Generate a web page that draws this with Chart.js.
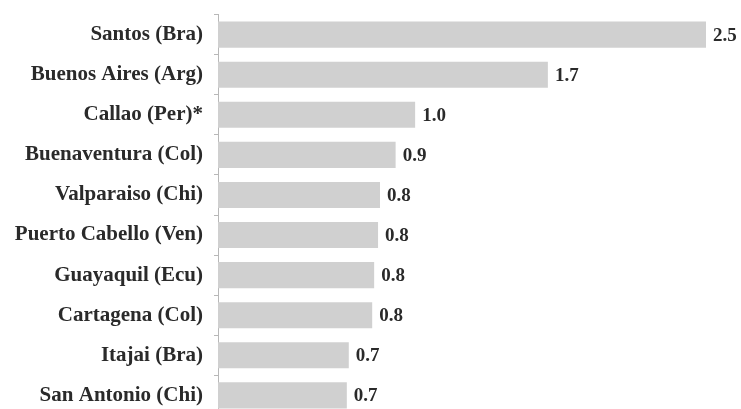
<!DOCTYPE html>
<html>
<head>
<meta charset="utf-8">
<script src="https://cdn.jsdelivr.net/npm/chart.js@4/dist/chart.umd.min.js"></script>
<style>
  html, body { margin: 0; padding: 0; background: #fff; overflow: hidden; }
  #wrap { width: 741px; height: 448px; margin-top: -9px; }
</style>
</head>
<body>
<div id="wrap"><canvas id="chart" width="741" height="448"></canvas></div>
<script>
// Ports and their throughput (millions of TEU)
const ports = [
  'Santos (Bra)',
  'Buenos Aires (Arg)',
  'Callao (Per)*',
  'Buenaventura (Col)',
  'Valparaiso (Chi)',
  'Puerto Cabello (Ven)',
  'Guayaquil (Ecu)',
  'Cartagena (Col)',
  'Itajai (Bra)',
  'San Antonio (Chi)'
];
const teu = [2.50, 1.69, 1.01, 0.91, 0.83, 0.82, 0.80, 0.79, 0.67, 0.66];

const serif = '"Liberation Serif", "Times New Roman", serif';
const categoryFont = { family: serif, size: 21, weight: 'bold' };
const valueFontSize = 19;
const textColor = '#2a2a2a';

// Writes each bar's value just past its end
const valueLabels = {
  id: 'valueLabels',
  afterDatasetsDraw(chart) {
    const ctx = chart.ctx;
    const meta = chart.getDatasetMeta(0);
    ctx.save();
    ctx.font = `bold ${valueFontSize}px ${serif}`;
    ctx.fillStyle = textColor;
    ctx.textAlign = 'left';
    ctx.textBaseline = 'middle';
    meta.data.forEach((bar, i) => {
      ctx.fillText(teu[i].toFixed(1), bar.x + 7, bar.y + 1);
    });
    ctx.restore();
  }
};

new Chart(document.getElementById('chart'), {
  type: 'bar',
  data: {
    labels: ports,
    datasets: [{
      data: teu,
      backgroundColor: '#d0d0d0',
      borderWidth: 0,
      barPercentage: 0.65,
      categoryPercentage: 1.0
    }]
  },
  options: {
    indexAxis: 'y',
    responsive: false,
    animation: false,
    devicePixelRatio: 1,
    layout: { padding: { top: 6, bottom: 0, left: 0, right: 15.5 } },
    plugins: {
      legend: { display: false },
      tooltip: { enabled: false }
    },
    scales: {
      x: {
        display: false,
        min: 0,
        max: 2.6
      },
      y: {
        afterFit(scale) { scale.width = 218; },
        border: { display: true, color: '#b8b8b8', width: 1 },
        grid: {
          display: true,
          drawOnChartArea: false,
          drawTicks: true,
          tickLength: 4,
          color: '#b8b8b8',
          offset: true
        },
        ticks: {
          color: textColor,
          font: categoryFont,
          padding: 11,
          autoSkip: false
        }
      }
    }
  },
  plugins: [valueLabels]
});
</script>
</body>
</html>
